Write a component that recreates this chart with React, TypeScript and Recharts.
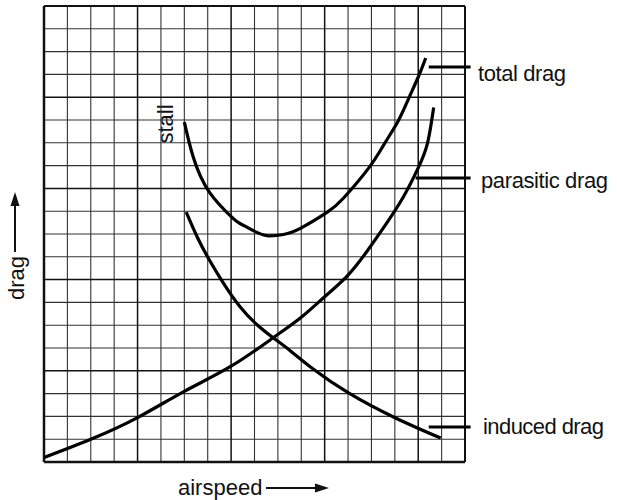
import React from 'react';
import { LineChart, Line, XAxis, YAxis, ReferenceLine, Customized } from 'recharts';

// grid cells (airspeed units, drag units)
const xGrid = [0, 1, 2, 3, 4, 5, 6, 7, 8, 9, 10, 11, 12, 13, 14, 15, 16, 17, 18];
const yGrid = [0, 1, 2, 3, 4, 5, 6, 7, 8, 9, 10, 11, 12, 13, 14, 15, 16, 17, 18, 19, 20];
const xMajor = [0, 4, 8, 12, 16, 18];
const yMajor = [0, 4, 8, 12, 16, 20];

// curves
const totalSpeed = [6.0, 6.38, 7.07, 8.05, 8.4, 9.08, 9.6, 10.24, 10.96, 12.1, 12.81, 13.88, 14.52, 15.12, 15.55, 16.02, 16.32];
const totalDrag = [14.91, 13.38, 11.84, 10.72, 10.45, 10.08, 9.92, 9.98, 10.25, 10.95, 11.58, 12.89, 13.9, 14.91, 15.85, 16.93, 17.72];

const parasiticSpeed = [0, 2.0, 4.0, 6.0, 8.0, 9.8, 11.0, 12.0, 13.0, 13.85, 14.6, 15.35, 16.0, 16.4, 16.66];
const parasiticDrag = [0.2, 1.0, 1.95, 3.1, 4.2, 5.45, 6.35, 7.25, 8.2, 9.3, 10.4, 11.6, 12.9, 14.0, 15.55];

const inducedSpeed = [6.08, 6.55, 7.07, 7.67, 8.39, 9.12, 9.81, 10.54, 11.48, 13.02, 15.03, 16.96];
const inducedDrag = [10.96, 9.87, 8.86, 7.85, 6.8, 6.01, 5.44, 4.87, 4.1, 3.03, 1.93, 1.05];

const labels = ['total drag', 'parasitic drag', 'induced drag'];
const leaderY = [17.32, 12.46, 1.54];
const leaderX0 = [16.45, 15.89, 16.45];
const leaderX1 = 18.24;

const toData = (xs: number[], ys: number[]) => xs.map((x, i) => ({ x, y: ys[i] }));
const totalData = toData(totalSpeed, totalDrag);
const parasiticData = toData(parasiticSpeed, parasiticDrag);
const inducedData = toData(inducedSpeed, inducedDrag);

const FONT = '"Liberation Sans", Arial, Helvetica, sans-serif';

const Annotations = () => (
  <g fontFamily={FONT} fill="#111" fontSize={22}>
    <text x={478} y={81} textLength={88} lengthAdjust="spacing">{labels[0]}</text>
    <text x={481} y={188} textLength={127} lengthAdjust="spacing">{labels[1]}</text>
    <text x={483} y={434} textLength={121} lengthAdjust="spacing">{labels[2]}</text>
    <text x={165} y={124} transform="rotate(-90 165 124)" textAnchor="middle" dominantBaseline="central">stall</text>
    <text x={16} y={278} transform="rotate(-90 16 278)" textAnchor="middle" dominantBaseline="central">drag</text>
    <line x1={15} y1={252} x2={15} y2={204} stroke="#111" strokeWidth={2} />
    <polygon points="15,192 10.5,206 19.5,206" fill="#111" />
    <text x={178} y={495}>airspeed</text>
    <line x1={266} y1={488} x2={316} y2={488} stroke="#111" strokeWidth={2} />
    <polygon points="329,488 315,483.5 315,492.5" fill="#111" />
  </g>
);

export default function App() {
  return (
    <div style={{ position: 'absolute', left: 0, top: 0, width: 617, height: 500, background: '#fff' }}>
      <LineChart width={617} height={500} margin={{ top: 6, right: 152, bottom: 38, left: 44 }}>
        <XAxis type="number" dataKey="x" domain={[0, 18]} hide allowDataOverflow />
        <YAxis type="number" dataKey="y" domain={[0, 20]} hide allowDataOverflow />
        {xGrid.filter((v) => !xMajor.includes(v)).map((v) => (
          <ReferenceLine key={'vx' + v} x={v} stroke="#333" strokeWidth={1.1} />
        ))}
        {yGrid.filter((v) => !yMajor.includes(v)).map((v) => (
          <ReferenceLine key={'hy' + v} y={v} stroke="#333" strokeWidth={1.1} />
        ))}
        {xMajor.map((v) => (
          <ReferenceLine key={'mx' + v} x={v} stroke="#111" strokeWidth={v === 0 ? 2.5 : v === 18 ? 2 : 1.5} />
        ))}
        {yMajor.map((v) => (
          <ReferenceLine key={'my' + v} y={v} stroke="#111" strokeWidth={v === 0 ? 2.5 : v === 20 ? 2 : 1.5} />
        ))}
        <Line data={parasiticData} dataKey="y" type="natural" stroke="#000" strokeWidth={3.2} dot={false} isAnimationActive={false} />
        <Line data={inducedData} dataKey="y" type="natural" stroke="#000" strokeWidth={3.2} dot={false} isAnimationActive={false} />
        <Line data={totalData} dataKey="y" type="natural" stroke="#000" strokeWidth={3.2} dot={false} isAnimationActive={false} />
        {leaderY.map((y, i) => (
          <ReferenceLine
            key={'lead' + i}
            segment={[{ x: leaderX0[i], y }, { x: leaderX1, y }]}
            stroke="#000"
            strokeWidth={3}
            ifOverflow="visible"
          />
        ))}
        <Customized component={Annotations} />
      </LineChart>
    </div>
  );
}
